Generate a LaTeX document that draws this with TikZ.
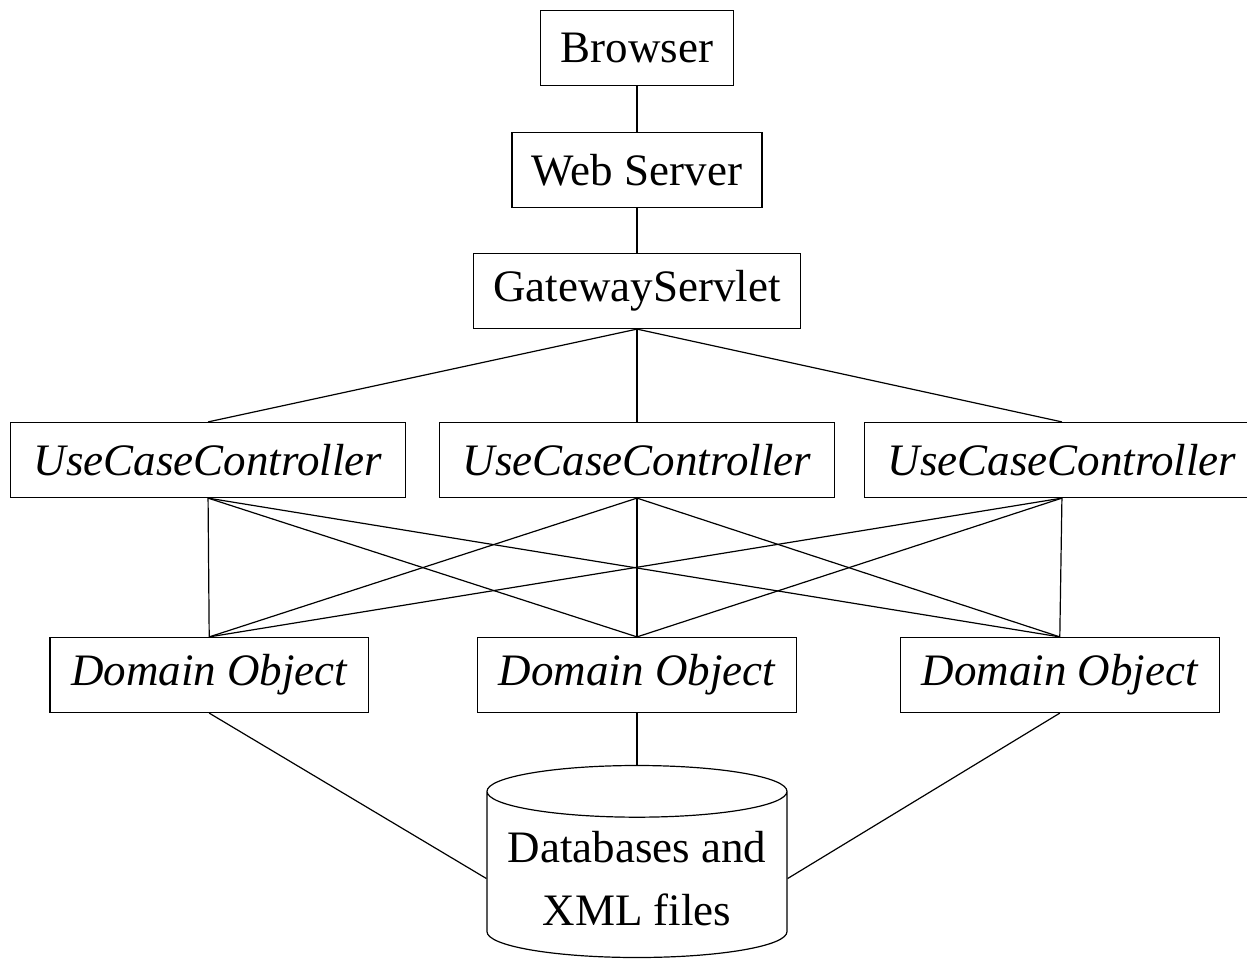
\documentclass[tikz,border=0pt]{standalone}
\usepackage{fontspec}
\setmainfont{Liberation Serif}
\usetikzlibrary{positioning, shapes.geometric}

\begin{document}
\begin{tikzpicture}[
    node distance=22.9pt,
    box/.style={draw, line width=0.6pt, inner xsep=10pt, minimum height=37.5pt, align=center, font=\fontsize{22.5}{27}\selectfont},
    abox/.style={box, inner xsep=11.6pt, font=\fontsize{22.5}{27}\selectfont\itshape},
    dobox/.style={abox, inner xsep=10.6pt},
    db/.style={draw, line width=0.6pt, cylinder, shape border rotate=90, aspect=0.19, minimum width=150pt, minimum height=96pt, align=center, font=\fontsize{22.5}{31.5}\selectfont},
    ln/.style={line width=0.6pt}
]
\useasboundingbox (0,0) rectangle (623.5pt,-479.5pt);
\node[box] (browser) at (318.5pt,-24pt) {Browser};
\node[box, below=of browser] (web) {Web Server};
\node[box, below=22.4pt of web] (gw) {GatewayServlet};
\node[abox, below=46.4pt of gw] (ucc2) {UseCaseController};
\node[abox, left=16.5pt of ucc2] (ucc1) {UseCaseController};
\node[abox, right=14.5pt of ucc2] (ucc3) {UseCaseController};
\node[dobox, below=69.4pt of ucc2] (do2) {Domain Object};
\node[dobox, left=54pt of do2] (do1) {Domain Object};
\node[dobox, right=51.5pt of do2] (do3) {Domain Object};
\node[db, below=25.9pt of do2] (data) {Databases and\\XML files};
\draw[ln] (browser) -- (web);
\draw[ln] (web) -- (gw);
\foreach \i in {1,2,3} {
  \draw[ln] (gw.south) -- (ucc\i.north);
  \foreach \j in {1,2,3}
    \draw[ln] (ucc\i.south) -- (do\j.north);
}
\draw[ln] (do1.south) -- (data.west);
\draw[ln] (do2.south) -- (data.north);
\draw[ln] (do3.south) -- (data.east);
\end{tikzpicture}
\end{document}
